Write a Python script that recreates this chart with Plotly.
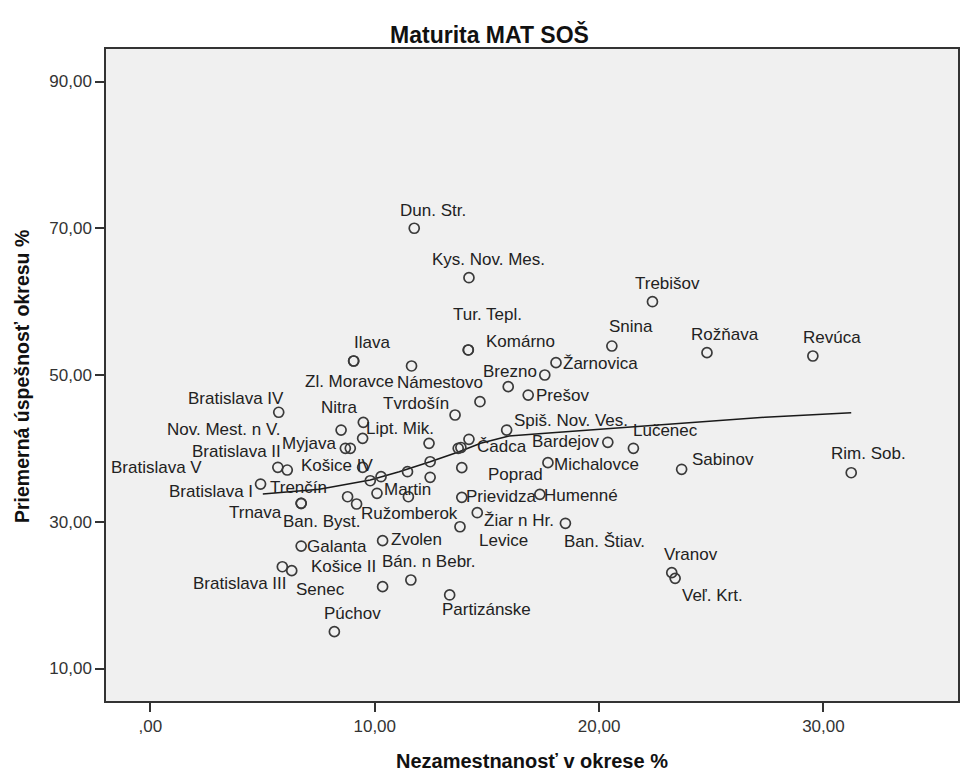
import plotly.graph_objects as go

# ---- data ----
names = ["Dun. Str.", "Kys. Nov. Mes.", "Trebišov", "Tur. Tepl.", "Komárno", "Snina", "Rožňava",
         "Revúca", "Ilava", "Zl. Moravce", "Námestovo", "Žarnovica", "Brezno", "", "Prešov", "",
         "Tvrdošín", "Bratislava IV", "Nitra", "Lipt. Mik.", "Nov. Mest. n V.", "Myjava", "",
         "Bratislava II", "Bratislava V", "Košice IV", "", "", "", "", "", "", "Čadca", "", "",
         "Poprad", "Spiš. Nov. Ves.", "Bardejov", "Lučenec", "Michalovce", "Sabinov", "Rim. Sob.",
         "Bratislava I", "Trenčín", "Trnava", "Ban. Byst.", "Ružomberok", "Martin", "",
         "Prievidza", "Humenné", "Žiar n Hr.", "Levice", "Ban. Štiav.", "Galanta", "Zvolen",
         "Bratislava III", "Košice II", "Senec", "Bán. n Bebr.", "Partizánske", "Púchov",
         "Vranov", "Veľ. Krt."]

unemployment = [11.76, 14.20, 22.38, 14.17, 14.17, 20.57, 24.81,
                29.53, 9.06, 9.06, 11.64, 18.08, 17.58, 15.95, 16.84, 14.69,
                13.58, 5.72, 8.50, 9.49, 9.46, 8.69, 8.91,
                5.68, 6.10, 9.46, 9.80, 10.28, 11.46, 12.42, 12.47, 12.47, 13.72, 13.84, 14.20,
                13.88, 15.88, 20.39, 21.53, 17.72, 23.68, 31.24,
                4.91, 6.72, 6.72, 8.79, 9.19, 10.10, 11.50,
                13.88, 17.36, 14.57, 13.80, 18.50, 6.72, 10.35,
                5.88, 6.30, 10.35, 11.61, 13.34, 8.20,
                23.24, 23.39]

success = [70.0, 63.26, 59.99, 53.41, 53.41, 53.95, 53.04,
           52.59, 51.91, 51.91, 51.23, 51.68, 50.0, 48.41, 47.27, 46.36,
           44.55, 44.92, 42.5, 43.55, 41.37, 40.01, 40.01,
           37.42, 37.05, 37.42, 35.59, 36.14, 36.82, 40.69, 38.18, 36.06, 40.01, 40.12, 41.24,
           37.37, 42.5, 40.83, 40.01, 38.05, 37.15, 36.68,
           35.14, 32.51, 32.51, 33.41, 32.42, 33.88, 33.41,
           33.33, 33.74, 31.23, 29.32, 29.79, 26.69, 27.42,
           23.87, 23.33, 21.15, 22.06, 20.02, 15.02,
           23.06, 22.29]

# fit line (loess)
fit_x = [5.01, 7.53, 9.80, 11.09, 12.47, 13.76, 14.72, 15.98, 17.76, 19.98, 21.44, 24.42, 27.39, 31.24]
fit_y = [33.78, 34.42, 35.69, 36.82, 38.18, 39.55, 40.69, 41.69, 42.1, 42.6, 42.95, 43.63, 44.24, 44.86]

x_ticks = [0, 10, 20, 30]
x_tick_text = [",00", "10,00", "20,00", "30,00"]
y_ticks = [10, 30, 50, 70, 90]
y_tick_text = ["10,00", "30,00", "50,00", "70,00", "90,00"]

# ---- label placement (pixel offsets from the point, styling only) ----
label_offsets = [(19, -18), (19.5, -18.4), (15, -18.4), (19, -35), (52, -8.3), (18.7, -19.3), (18.3, -17.7),
                 (19, -18.3), (18.7, -18.3), (-4.3, 21), (28.5, 16.7), (44.4, 1.3), (-34.5, -4), (0, 0), (34.4, 0), (0, 0),
                 (-39.3, -11.7), (-42.6, -14), (-1.7, -23), (37, 6), (-139.5, -9), (-36.7, -5), (0, 0),
                 (-41.6, -15.6), (-131, -2.3), (-25.8, -2.3), (0, 0), (0, 0), (0, 0), (0, 0), (0, 0), (0, 0), (44, -1.6), (0, 0), (0, 0),
                 (53.3, 7.3), (64.8, -10), (-41.8, -0.6), (31.7, -18.3), (48.2, 2.3), (41.7, -9.3), (17.7, -19.4),
                 (-49.3, 7), (-2.2, -16), (-45.4, 9.4), (-26.3, 25), (53.2, 10), (30.3, -3.3), (0, 0),
                 (39.6, -0.6), (41.5, 0.7), (42.2, 7.3), (43.7, 13.3), (38.8, 18.4), (36.3, 0.7), (34, -0.7),
                 (-41.9, 16.6), (51.9, -4), (-62.5, 3.3), (17.8, -18.3), (36.5, 15), (18.3, -18.4),
                 (19, -18.4), (37.5, 16.7)]

FONT = "Liberation Sans, Arial, sans-serif"
PAGE_OFFSET = 8  # default body margin of the html page

fig = go.Figure()
fig.add_trace(go.Scatter(x=fit_x, y=fit_y, mode="lines",
                         line=dict(color="#1a1a1a", width=1.6), hoverinfo="skip", showlegend=False))
fig.add_trace(go.Scatter(x=unemployment, y=success, mode="markers",
                         marker=dict(symbol="circle-open", size=10, color="#3a3a3a",
                                     line=dict(width=1.7, color="#3a3a3a")),
                         text=names, showlegend=False))

annotations = []
for nm, xv, yv, (dx, dy) in zip(names, unemployment, success, label_offsets):
    if not nm:
        continue
    annotations.append(dict(x=xv, y=yv, xref="x", yref="y", text=nm, showarrow=False,
                            xshift=dx, yshift=-dy, xanchor="center", yanchor="middle",
                            font=dict(family=FONT, size=17, color="#222222")))

annotations.append(dict(x=0.5, y=0, xref="paper", yref="paper", text="<b>Nezamestnanosť v okrese %</b>",
                        showarrow=False, yshift=-60, xanchor="center", yanchor="middle",
                        font=dict(family=FONT, size=20, color="#111111")))
annotations.append(dict(x=0, y=0.5, xref="paper", yref="paper", text="<b>Priemerná úspešnosť okresu %</b>",
                        showarrow=False, xshift=-84, yshift=-2, textangle=-90, xanchor="center", yanchor="middle",
                        font=dict(family=FONT, size=19.5, color="#111111")))

W, H = 971 - PAGE_OFFSET, 771 - PAGE_OFFSET
fig.update_layout(
    width=W, height=H,
    paper_bgcolor="white", plot_bgcolor="#f0f0f0",
    margin=dict(l=106 - PAGE_OFFSET, r=11, t=49 - PAGE_OFFSET, b=70),
    title=dict(text="<b>Maturita MAT SOŠ</b>", x=0.5, xanchor="center", y=1 - (35 - PAGE_OFFSET) / H,
               yanchor="middle", yref="container", font=dict(family=FONT, size=23, color="#111111")),
    annotations=annotations,
)
fig.update_xaxes(range=[-1.98, 36.0], tickvals=x_ticks, ticktext=x_tick_text, showgrid=False, zeroline=False,
                 showline=True, linecolor="#333333", linewidth=1.5, mirror=True,
                 ticks="outside", ticklen=9, tickwidth=1.5, tickcolor="#333333",
                 tickfont=dict(family=FONT, size=17, color="#333333"))
fig.update_yaxes(range=[5.57, 94.43], tickvals=y_ticks, ticktext=y_tick_text, showgrid=False, zeroline=False,
                 showline=True, linecolor="#333333", linewidth=1.5, mirror=True,
                 ticks="outside", ticklen=9, tickwidth=1.5, tickcolor="#333333",
                 tickfont=dict(family=FONT, size=17, color="#333333"))

fig.write_html("out.html")
